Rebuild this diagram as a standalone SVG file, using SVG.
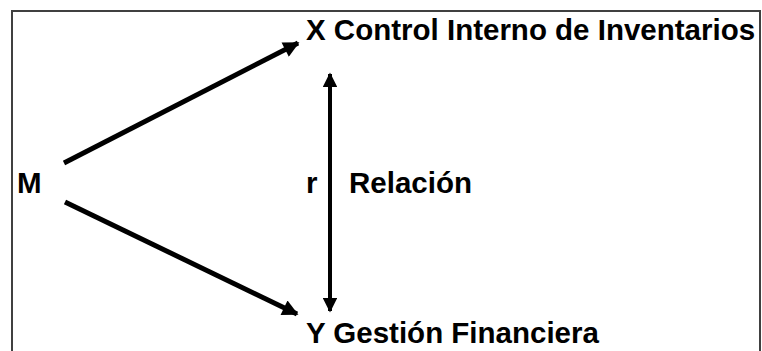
<svg xmlns="http://www.w3.org/2000/svg" width="762" height="351" viewBox="0 0 762 351">
<style>
.t{font-family:"Liberation Sans",Arial,sans-serif;font-weight:bold;font-size:29.5px;fill:#000}
.c{stroke:#000;stroke-width:5;fill:none}
</style>
<defs>
<marker id="ah" viewBox="0 0 10 10" refX="9" refY="5" markerWidth="3.6" markerHeight="3.2" orient="auto-start-reverse" markerUnits="strokeWidth">
<path d="M0,0 L10,5 L0,10 Z" fill="#000"/>
</marker>
<marker id="ahv" viewBox="0 0 10 10" refX="9" refY="5" markerWidth="4" markerHeight="3.6" orient="auto-start-reverse" markerUnits="strokeWidth">
<path d="M0,0 L10,5 L0,10 Z" fill="#000"/>
</marker>
</defs>
<rect x="12" y="11" width="748" height="350" fill="#fff" stroke="#404040" stroke-width="2"/>
<g id="connectors">
<line class="c" x1="64" y1="163" x2="298" y2="43" marker-end="url(#ah)"/>
<line class="c" x1="65" y1="202" x2="297" y2="314" marker-end="url(#ah)"/>
<line class="c" style="stroke-width:4" x1="330" y1="74" x2="330" y2="311" marker-start="url(#ahv)" marker-end="url(#ahv)"/>
</g>
<g id="M"><text class="t" x="17" y="193">M</text></g>
<g id="X"><text class="t" x="306" y="40">X Control Interno de Inventarios</text></g>
<g id="Y"><text class="t" x="306" y="343">Y Gestión Financiera</text></g>
<g id="r"><text class="t" x="306" y="193">r</text></g>
<g id="relacion"><text class="t" x="349" y="193">Relación</text></g>
</svg>
